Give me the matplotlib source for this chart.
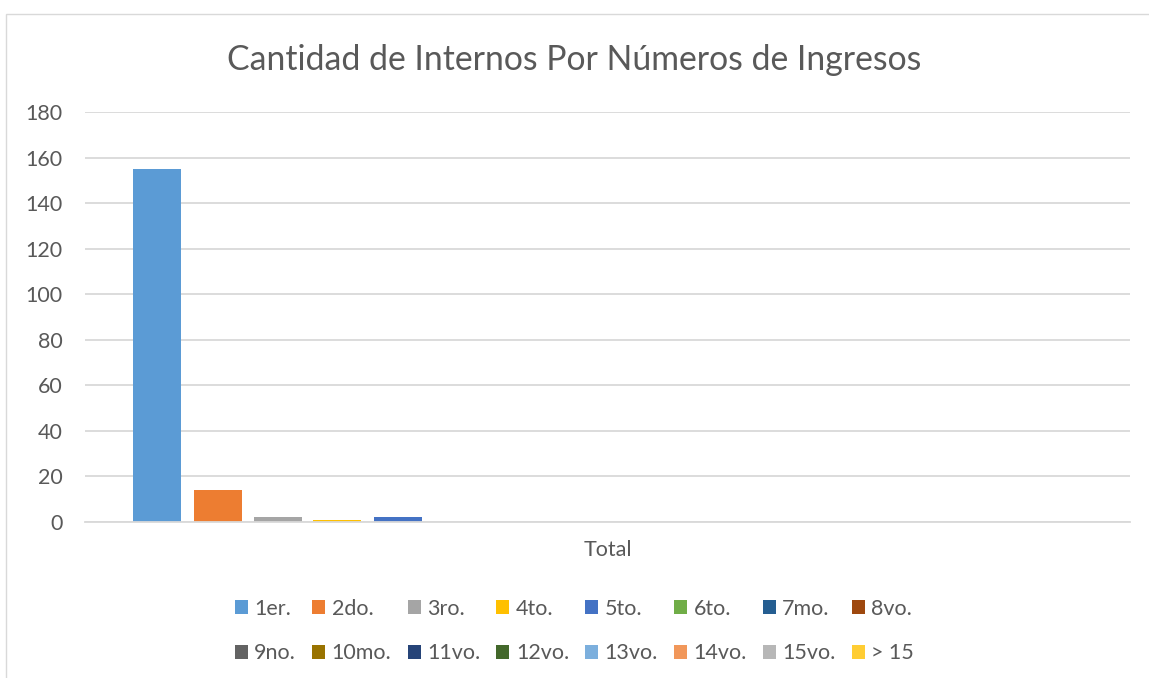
import numpy as np
import matplotlib
matplotlib.use('Agg')
import matplotlib.pyplot as plt
from matplotlib.patches import Rectangle

# datos
series = ['1er.', '2do.', '3ro.', '4to.', '5to.', '6to.', '7mo.', '8vo.',
          '9no.', '10mo.', '11vo.', '12vo.', '13vo.', '14vo.', '15vo.', '> 15']
values = [155, 14, 2, 1, 2, 0, 0, 0, 0, 0, 0, 0, 0, 0, 0, 0]
colors = ['#5B9BD5', '#ED7D31', '#A5A5A5', '#FFC000', '#4472C4', '#70AD47',
          '#255E91', '#9E480E', '#636363', '#997300', '#264478', '#43682B',
          '#7CAFDD', '#F1975A', '#B7B7B7', '#FFCD33']
category = 'Total'
yticks = [0, 20, 40, 60, 80, 100, 120, 140, 160, 180]

TXT = '#595959'
GRID = '#D9D9D9'
plt.rcParams['font.family'] = ['Lato', 'DejaVu Sans']

fig = plt.figure(figsize=(11.49, 6.78), dpi=100)
fig.patches.append(Rectangle((6 / 1149, -0.01), 1.0, 1 - 14 / 678 + 0.01,
                             transform=fig.transFigure, fill=False,
                             edgecolor=GRID, linewidth=1.0))
ax = fig.add_axes([85 / 1149, 1 - 522 / 678, (1130 - 85) / 1149, (522 - 112) / 678])

n = len(series)
slot = 60 / 1045
width = 48 / 1045
offsets = (np.arange(n) - (n - 1) / 2) * slot
handles = []
for i in range(n):
    b = ax.bar(offsets[i], values[i], width=width, color=colors[i], label=series[i])
    handles.append(b)

ax.set_xlim(-0.5, 0.5)
ax.set_ylim(0, 180)
ax.set_yticks(yticks)
ax.set_xticks([0])
ax.set_xticklabels([category])
ax.yaxis.grid(True, color=GRID, linewidth=1.3)
ax.set_axisbelow(True)
for s in ['top', 'right', 'left']:
    ax.spines[s].set_visible(False)
ax.spines['bottom'].set_color(GRID)
ax.spines['bottom'].set_linewidth(1.3)
ax.tick_params(axis='y', length=0, pad=16, labelsize=15.5, labelcolor=TXT)
ax.tick_params(axis='x', length=0, pad=13, labelsize=15.5, labelcolor=TXT)

fig.text(0.5, 1 - 60 / 678, 'Cantidad de Internos Por Números de Ingresos',
         ha='center', va='center', fontsize=24.3, color=TXT)

# leyenda por filas: reordenar para ncol=8
order = [j * 8 + i for i in range(8) for j in range(2)]
leg = fig.legend([handles[k] for k in order], [series[k] for k in order],
                 ncol=8, loc='center', bbox_to_anchor=(0.5, 1 - 631 / 678),
                 frameon=False, fontsize=15.5, labelcolor=TXT,
                 handlelength=0.6, handleheight=0.6, handletextpad=0.3,
                 columnspacing=0.75, labelspacing=1.15)

fig.savefig('out.png', dpi=100)
